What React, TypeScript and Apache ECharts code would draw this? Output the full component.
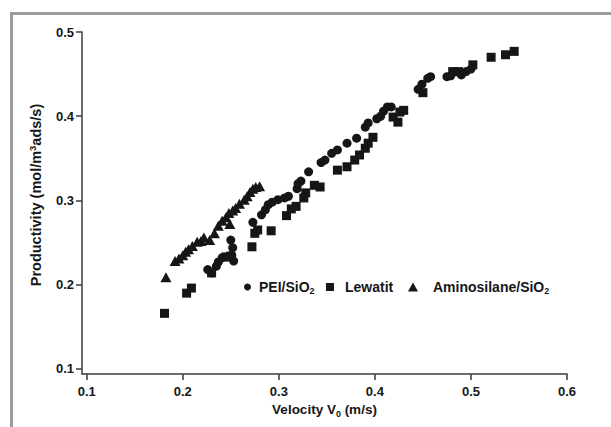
import React, { useEffect, useRef } from "react";
import * as echarts from "echarts";

// Data (velocity m/s, productivity mol/m3ads/s)
const peiX = [0.226, 0.230, 0.235, 0.237, 0.241, 0.246, 0.251, 0.253, 0.252, 0.250, 0.273, 0.282, 0.286, 0.289, 0.293, 0.299, 0.306, 0.310, 0.319, 0.320, 0.323, 0.331, 0.344, 0.348, 0.355, 0.361, 0.371, 0.381, 0.390, 0.393, 0.402, 0.406, 0.409, 0.413, 0.417, 0.445, 0.449, 0.455, 0.458, 0.475, 0.479, 0.490, 0.495, 0.500];
const peiY = [0.218, 0.214, 0.222, 0.227, 0.232, 0.233, 0.235, 0.228, 0.244, 0.253, 0.274, 0.283, 0.289, 0.295, 0.298, 0.301, 0.303, 0.305, 0.314, 0.320, 0.323, 0.334, 0.345, 0.348, 0.356, 0.360, 0.368, 0.374, 0.387, 0.392, 0.397, 0.400, 0.406, 0.411, 0.411, 0.432, 0.438, 0.445, 0.447, 0.447, 0.448, 0.449, 0.453, 0.456];

const lewX = [0.181, 0.204, 0.209, 0.230, 0.245, 0.250, 0.272, 0.275, 0.278, 0.292, 0.308, 0.313, 0.318, 0.326, 0.328, 0.337, 0.343, 0.361, 0.371, 0.379, 0.384, 0.390, 0.393, 0.398, 0.419, 0.424, 0.426, 0.430, 0.450, 0.481, 0.487, 0.502, 0.521, 0.536, 0.545];
const lewY = [0.166, 0.190, 0.196, 0.214, 0.233, 0.234, 0.245, 0.261, 0.265, 0.264, 0.282, 0.290, 0.293, 0.303, 0.309, 0.318, 0.316, 0.336, 0.340, 0.348, 0.354, 0.362, 0.368, 0.375, 0.399, 0.393, 0.405, 0.407, 0.428, 0.453, 0.453, 0.461, 0.470, 0.473, 0.477];

const amiX = [0.1825, 0.192, 0.196, 0.200, 0.203, 0.206, 0.210, 0.215, 0.219, 0.222, 0.228, 0.233, 0.237, 0.241, 0.245, 0.248, 0.249, 0.252, 0.255, 0.259, 0.264, 0.267, 0.270, 0.273, 0.276, 0.280];
const amiY = [0.209, 0.228, 0.231, 0.235, 0.239, 0.242, 0.246, 0.251, 0.252, 0.256, 0.253, 0.261, 0.270, 0.276, 0.280, 0.285, 0.272, 0.288, 0.291, 0.296, 0.301, 0.305, 0.310, 0.314, 0.316, 0.317];

const xTicks = [0.1, 0.2, 0.3, 0.4, 0.5, 0.6];
const yTicks = [0.1, 0.2, 0.3, 0.4, 0.5];

const seriesNames = ["PEI/SiO2", "Lewatit", "Aminosilane/SiO2"];
const legendLabels: Record<string, string> = {
  "PEI/SiO2": "{a|PEI/SiO}{ls|2}",
  Lewatit: "{b|Lewatit}",
  "Aminosilane/SiO2": "{c|Aminosilane/SiO}{ls|2}",
};

const zip = (xs: number[], ys: number[]) => xs.map((x, i) => [x, ys[i]]);

const FONT = "'Liberation Sans', Arial, sans-serif";
const INK = "#161616";
const AXIS = "#3c3c3c";

const base = { fontWeight: "bold", color: INK, fontFamily: FONT };

const xName = {
  n: { ...base, fontSize: 13.5 },
  s: { ...base, fontSize: 9, padding: [8, 0, 0, 0] },
};
const yName = {
  n: { ...base, fontSize: 14.5 },
  p: { ...base, fontSize: 9.5, padding: [0, 0, 8, 0] },
};
const legRich = {
  a: { ...base, fontSize: 14, padding: [0, 0, 0, 3] },
  b: { ...base, fontSize: 14, padding: [0, 0, 0, 6] },
  c: { ...base, fontSize: 14, padding: [0, 0, 0, 10] },
  ls: { ...base, fontSize: 9, padding: [8, 0, 0, 0] },
};

export default function App() {
  const ref = useRef<HTMLDivElement>(null);
  useEffect(() => {
    if (!ref.current) return;
    const chart = echarts.init(ref.current, null, { renderer: "svg" });
    const mkLegend = (name: string, left: number, w: number, h: number) => ({
      data: [name],
      left,
      top: 280,
      orient: "horizontal",
      itemWidth: w,
      itemHeight: h,
      padding: 0,
      formatter: (n: string) => legendLabels[n],
      textStyle: { ...base, fontSize: 14, rich: legRich },
    });
    chart.setOption({
      animation: false,
      backgroundColor: "#ffffff",
      grid: { left: 82, right: 44, top: 32, bottom: 53, containLabel: false },
      xAxis: {
        type: "value",
        min: 0.0951,
        max: 0.6,
        name: "{n|Velocity V}{s|0}{n| (m/s)}",
        nameLocation: "middle",
        nameGap: 27,
        nameMoveOverlap: false,
        nameTextStyle: { rich: xName },
        axisLine: { show: true, onZero: false, lineStyle: { color: AXIS, width: 1.5 } },
        axisTick: { show: true, inside: false, length: 6, customValues: xTicks, lineStyle: { color: AXIS, width: 1.5 } },
        axisLabel: {
          customValues: xTicks,
          margin: 11,
          formatter: (v: number) => v.toFixed(1),
          fontSize: 13,
          ...base,
        },
        splitLine: { show: false },
      },
      yAxis: {
        type: "value",
        min: 0.094,
        max: 0.5,
        name: "{n|Productivity (mol/m}{p|3}{n|ads/s)}",
        nameLocation: "middle",
        nameRotate: 90,
        nameGap: 37,
        nameMoveOverlap: false,
        nameTextStyle: { rich: yName, padding: [0, 0, 0, 16] },
        axisLine: { show: true, onZero: false, lineStyle: { color: AXIS, width: 1.5 } },
        axisTick: { show: true, inside: false, length: 6, customValues: yTicks, lineStyle: { color: AXIS, width: 1.5 } },
        axisLabel: {
          customValues: yTicks,
          margin: 8,
          formatter: (v: number) => v.toFixed(1),
          fontSize: 13,
          ...base,
        },
        splitLine: { show: false },
      },
      legend: [
        mkLegend(seriesNames[0], 244, 7, 7),
        mkLegend(seriesNames[1], 326, 8, 8),
        mkLegend(seriesNames[2], 408, 10, 9),
      ],
      graphic: [
        {
          type: "rect",
          shape: { x: 11.5, y: 13.5, width: 700, height: 500 },
          style: { fill: "none", stroke: "#9c9c9c", lineWidth: 3 },
          silent: true,
        },
      ],
      series: [
        {
          name: seriesNames[0],
          type: "scatter",
          symbol: "circle",
          symbolSize: 9,
          itemStyle: { color: INK, opacity: 1 },
          data: zip(peiX, peiY),
        },
        {
          name: seriesNames[1],
          type: "scatter",
          symbol: "rect",
          symbolSize: 9,
          itemStyle: { color: INK, opacity: 1 },
          data: zip(lewX, lewY),
        },
        {
          name: seriesNames[2],
          type: "scatter",
          symbol: "triangle",
          symbolSize: [11, 10],
          itemStyle: { color: INK, opacity: 1 },
          data: zip(amiX, amiY),
        },
      ],
    });
    return () => chart.dispose();
  }, []);
  return <div ref={ref} style={{ width: 611, height: 427, position: "absolute", left: 0, top: 0 }} />;
}
